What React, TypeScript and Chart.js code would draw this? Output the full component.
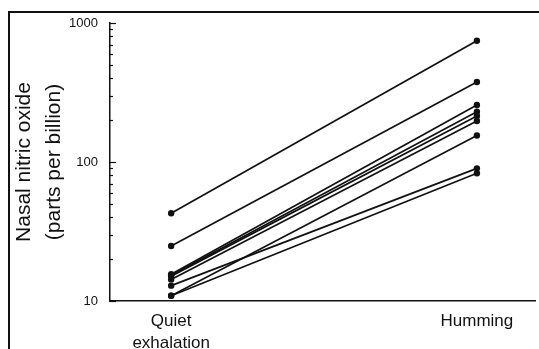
import React, { useEffect, useRef } from 'react';
import { Chart, registerables } from 'chart.js';

Chart.register(...registerables);

// Categories (x positions 0 and 1)
const categories: string[][] = [['Quiet', 'exhalation'], ['Humming']];
// One line per subject: value during quiet exhalation -> value during humming (ppb)
const quietExhalation = [42.8, 24.9, 15.6, 15.3, 15.1, 14.3, 12.9, 10.9, 10.9];
const humming = [746, 376, 257, 230, 214, 197, 90, 155, 83];
// Y axis
const yMajorTicks = [10, 100, 1000];
const yMinorSteps = [2, 3, 4, 5, 6, 7, 8, 9];
const yAxisTitle = ['Nasal nitric oxide', '(parts per billion)'];

const FONT = "'Liberation Sans', Arial, Helvetica, sans-serif";
const INK = '#111';

const innerTicks = {
  id: 'innerTicks',
  afterDatasetsDraw(chart: any) {
    const s = chart.scales.y;
    const left = chart.chartArea.left;
    const ctx = chart.ctx;
    ctx.save();
    ctx.strokeStyle = INK;
    ctx.lineWidth = 1.2;
    s.ticks.forEach((t: any) => {
      const isMajor = yMajorTicks.includes(t.value);
      const y = Math.round(s.getPixelForValue(t.value)) + 0.5;
      ctx.beginPath();
      ctx.moveTo(left, y);
      ctx.lineTo(left + (isMajor ? 6 : 3), y);
      ctx.stroke();
    });
    ctx.restore();
  },
};

export default function App() {
  const ref = useRef<HTMLCanvasElement | null>(null);

  useEffect(() => {
    if (!ref.current) return;
    const allYTicks: number[] = [];
    yMajorTicks.forEach((m, i) => {
      allYTicks.push(m);
      if (i < yMajorTicks.length - 1) yMinorSteps.forEach((k) => allYTicks.push(m * k));
    });

    const datasets = quietExhalation.map((q, i) => ({
      data: [
        { x: 0, y: q },
        { x: 1, y: humming[i] },
      ],
      borderColor: INK,
      backgroundColor: INK,
      borderWidth: 1.7,
      pointRadius: 3.2,
      pointBorderWidth: 0,
      pointBackgroundColor: INK,
      showLine: true,
      fill: false,
    }));

    const chart = new Chart(ref.current, {
      type: 'line',
      data: { datasets },
      plugins: [innerTicks],
      options: {
        animation: false,
        responsive: false,
        layout: { padding: { top: 15, left: 0, right: 0, bottom: 0 } },
        plugins: { legend: { display: false }, tooltip: { enabled: false } },
        scales: {
          x: {
            type: 'linear',
            min: -0.2,
            max: 1.19,
            afterBuildTicks: (s: any) => {
              s.ticks = categories.map((_, i) => ({ value: i }));
            },
            afterFit: (s: any) => {
              s.height = 48;
              s.paddingLeft = 0;
              s.paddingRight = 0;
            },
            grid: { display: false, drawTicks: false },
            border: { display: true, color: INK, width: 1.5 },
            ticks: {
              padding: 10,
              color: INK,
              autoSkip: false,
              maxRotation: 0,
              font: { family: FONT, size: 17, lineHeight: 1.25 },
              callback: (v: any) => categories[v as number] ?? '',
            },
          },
          y: {
            type: 'logarithmic',
            min: 10,
            max: 1000,
            afterBuildTicks: (s: any) => {
              s.ticks = allYTicks.map((v) => ({ value: v }));
            },
            afterFit: (s: any) => {
              s.width = 102;
              s.paddingTop = 0;
              s.paddingBottom = 0;
            },
            grid: { display: false, drawTicks: false },
            border: { display: true, color: INK, width: 1.5 },
            ticks: {
              padding: 12,
              color: INK,
              autoSkip: false,
              font: { family: FONT, size: 13 },
              callback: (v: any) => (yMajorTicks.includes(v as number) ? String(v) : ''),
            },
            title: {
              display: true,
              text: yAxisTitle,
              color: INK,
              padding: { top: 2, bottom: 0 },
              font: { family: FONT, size: 21, lineHeight: 1.4 },
            },
          },
        },
      } as any,
    });
    return () => chart.destroy();
  }, []);

  return (
    <div
      style={{
        position: 'fixed',
        left: 8,
        top: 8,
        width: 531,
        height: 341,
        overflow: 'hidden',
        background: '#fff',
      }}
    >
      <div
        style={{
          position: 'absolute',
          left: 0,
          top: 3,
          width: 700,
          height: 500,
          borderLeft: `2px solid ${INK}`,
          borderTop: `2px solid ${INK}`,
        }}
      />
      <canvas ref={ref} width={531} height={341} style={{ position: 'absolute', left: 0, top: 0 }} />
    </div>
  );
}
